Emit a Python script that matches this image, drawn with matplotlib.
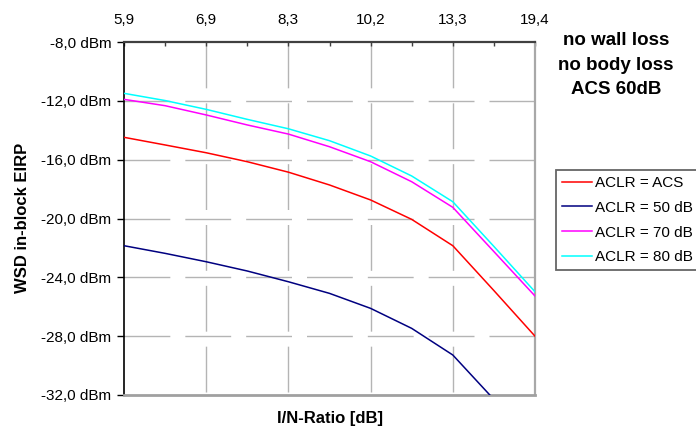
import numpy as np
import matplotlib
matplotlib.use("Agg")
import matplotlib.pyplot as plt

plt.rcParams['font.family'] = ['Liberation Sans', 'DejaVu Sans']
plt.rcParams['lines.scale_dashes'] = False

# I/N-ratio categories (only every second one carries a label)
x_labels = ["5,9", "", "6,9", "", "8,3", "", "10,2", "", "13,3", "", "19,4"]

# WSD in-block EIRP in dBm
aclr_acs = [-14.48, -15.0, -15.53, -16.14, -16.85, -17.72, -18.74, -20.06, -21.85, -24.9, -28.0]
aclr_50 = [-21.85, -22.37, -22.94, -23.57, -24.3, -25.09, -26.11, -27.47, -29.28, -32.3, np.nan]
aclr_70 = [-11.9, -12.33, -12.96, -13.64, -14.26, -15.12, -16.14, -17.5, -19.24, -22.25, -25.27]
aclr_80 = [-11.49, -11.98, -12.58, -13.26, -13.9, -14.71, -15.75, -17.11, -18.86, -21.9, -24.98]

series = [
    ("ACLR = ACS", aclr_acs, "#ff0000"),
    ("ACLR = 50 dB", aclr_50, "#000080"),
    ("ACLR = 70 dB", aclr_70, "#ff00ff"),
    ("ACLR = 80 dB", aclr_80, "#00ffff"),
]

y_ticks = [-8, -12, -16, -20, -24, -28, -32]

fig = plt.figure(figsize=(6.96, 4.32), dpi=100)
ax = fig.add_axes([124 / 696, 1 - 395 / 432, 411 / 696, 353 / 432])

x = np.arange(len(x_labels))

# dashed grid, dash pattern starting from the left / top edges
grid_kw = dict(colors="#b4b4b4", linewidth=1.0, linestyles=(0, (33, 10.8)), zorder=1)
ax.hlines(y_ticks[1:-1], 0, 1, transform=ax.get_yaxis_transform(), **grid_kw)
major_x = [i for i, lab in enumerate(x_labels) if lab]
ax.vlines(major_x[1:-1], 1, 0, transform=ax.get_xaxis_transform(), **grid_kw)

for label, vals, color in series:
    ax.plot(x, vals, color=color, linewidth=1.1, label=label, zorder=3)

ax.set_xlim(0, len(x_labels) - 1)
ax.set_ylim(-32, -8)

# category axis drawn along the top
ax.xaxis.tick_top()
ax.set_xticks(x)
ax.set_xticklabels(x_labels, fontsize=11)
ax.tick_params(axis="x", direction="in", length=3, width=1, color="#404040", pad=11)

ax.set_yticks(y_ticks)
ax.set_yticklabels([f"{v:.1f} dBm".replace(".", ",") for v in y_ticks], fontsize=11)
ax.tick_params(axis="y", direction="out", length=5, width=1, color="black", pad=4)

ax.spines["left"].set_color("black")
ax.spines["left"].set_linewidth(1.2)
ax.spines["top"].set_color("#404040")
ax.spines["top"].set_linewidth(1.6)
ax.spines["bottom"].set_color("#a0a0a0")
ax.spines["bottom"].set_linewidth(2.0)
ax.spines["right"].set_color("#a8a8a8")
ax.spines["right"].set_linewidth(1.6)

fig.text(23 / 696, 1 - 218 / 432, "WSD in-block EIRP", rotation=90, ha="center", va="center",
         fontsize=12, fontweight="bold")
fig.text(330 / 696, 1 - 419 / 432, "I/N-Ratio [dB]", ha="center", va="center",
         fontsize=12, fontweight="bold")

fig.text(616 / 696, 1 - 65 / 432, "no wall loss\nno body loss\nACS 60dB", ha="center", va="center",
         fontsize=13.5, fontweight="bold", linespacing=1.55)

leg = ax.legend(loc="upper left", bbox_to_anchor=(556 / 696, 1 - 170 / 432),
                bbox_transform=fig.transFigure, fontsize=11, frameon=True, fancybox=False,
                handlelength=1.95, handletextpad=0.2, labelspacing=0.7, borderpad=0.4,
                borderaxespad=0)
leg.get_frame().set_edgecolor("#404040")
leg.get_frame().set_linewidth(1.3)

fig.savefig("out.png", dpi=100)
